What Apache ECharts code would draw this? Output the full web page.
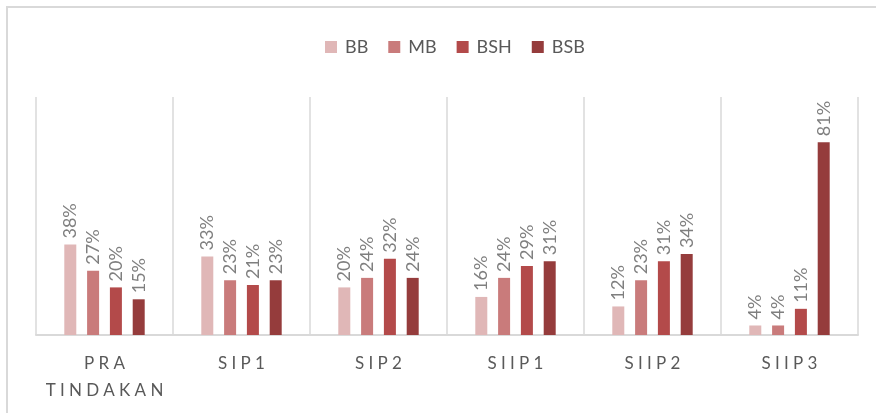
<!DOCTYPE html>
<html>
<head>
<meta charset="utf-8">
<script src="https://cdn.jsdelivr.net/npm/echarts@6/dist/echarts.min.js"></script>
<style>html,body{margin:0;padding:0;background:#fff}#c{width:876px;height:413px}</style>
</head>
<body>
<div id="c"></div>
<script>
var categories = ['PRA TINDAKAN', 'SIP1', 'SIP2', 'SIIP1', 'SIIP2', 'SIIP3'];
var seriesNames = ['BB', 'MB', 'BSH', 'BSB'];
var BB = [38, 33, 20, 16, 12, 4];
var MB = [27, 23, 24, 24, 23, 4];
var BSH = [20, 21, 32, 29, 31, 11];
var BSB = [15, 23, 24, 31, 34, 81];
var colors = ['#E0B7B7', '#C97B7B', '#B34A4A', '#953C3C'];
var values = [BB, MB, BSH, BSB];

var FONT = 'Lato, "Open Sans", sans-serif';
function spaced(s) {
  return s.split(' ').map(function (w) { return w.split('').join('\u2005'); }).join('\n');
}
var chart = echarts.init(document.getElementById('c'), null, {renderer: 'canvas'});
chart.setOption({
  animation: false,
  backgroundColor: '#fff',
  color: colors,
  graphic: [{
    type: 'rect', shape: {x: 7, y: 7, width: 900, height: 450},
    style: {fill: 'none', stroke: '#d9d9d9', lineWidth: 2}, silent: true
  }],
  legend: {
    top: 33, left: 320, icon: 'rect', itemWidth: 12, itemHeight: 12, itemGap: 20,
    textStyle: {color: '#595959', fontSize: 18, fontFamily: FONT, padding: [0, 0, 0, 3]},
    data: seriesNames
  },
  grid: {left: 36, right: 18, top: 97, bottom: 78},
  xAxis: {
    type: 'category', data: categories,
    axisTick: {show: false},
    axisLine: {lineStyle: {color: '#d9d9d9', width: 2}},
    splitLine: {show: true, interval: 0, lineStyle: {color: '#d9d9d9', width: 1.5}},
    axisLabel: {interval: 0, color: '#595959', fontSize: 17, fontFamily: FONT, margin: 15, lineHeight: 27,
      formatter: function (v) { return spaced(v); }}
  },
  yAxis: {type: 'value', min: 0, max: 100, show: false, splitLine: {show: false}},
  series: seriesNames.map(function (n, i) {
    return {
      name: n, type: 'bar', data: values[i], barWidth: 12, barGap: '90%',
      itemStyle: {color: colors[i]},
      label: {show: true, position: 'top', rotate: 90, distance: 6, align: 'left', verticalAlign: 'middle',
        formatter: '{c}%', color: '#7f7f7f', fontSize: 18, fontFamily: FONT}
    };
  })
});
</script>
</body>
</html>
